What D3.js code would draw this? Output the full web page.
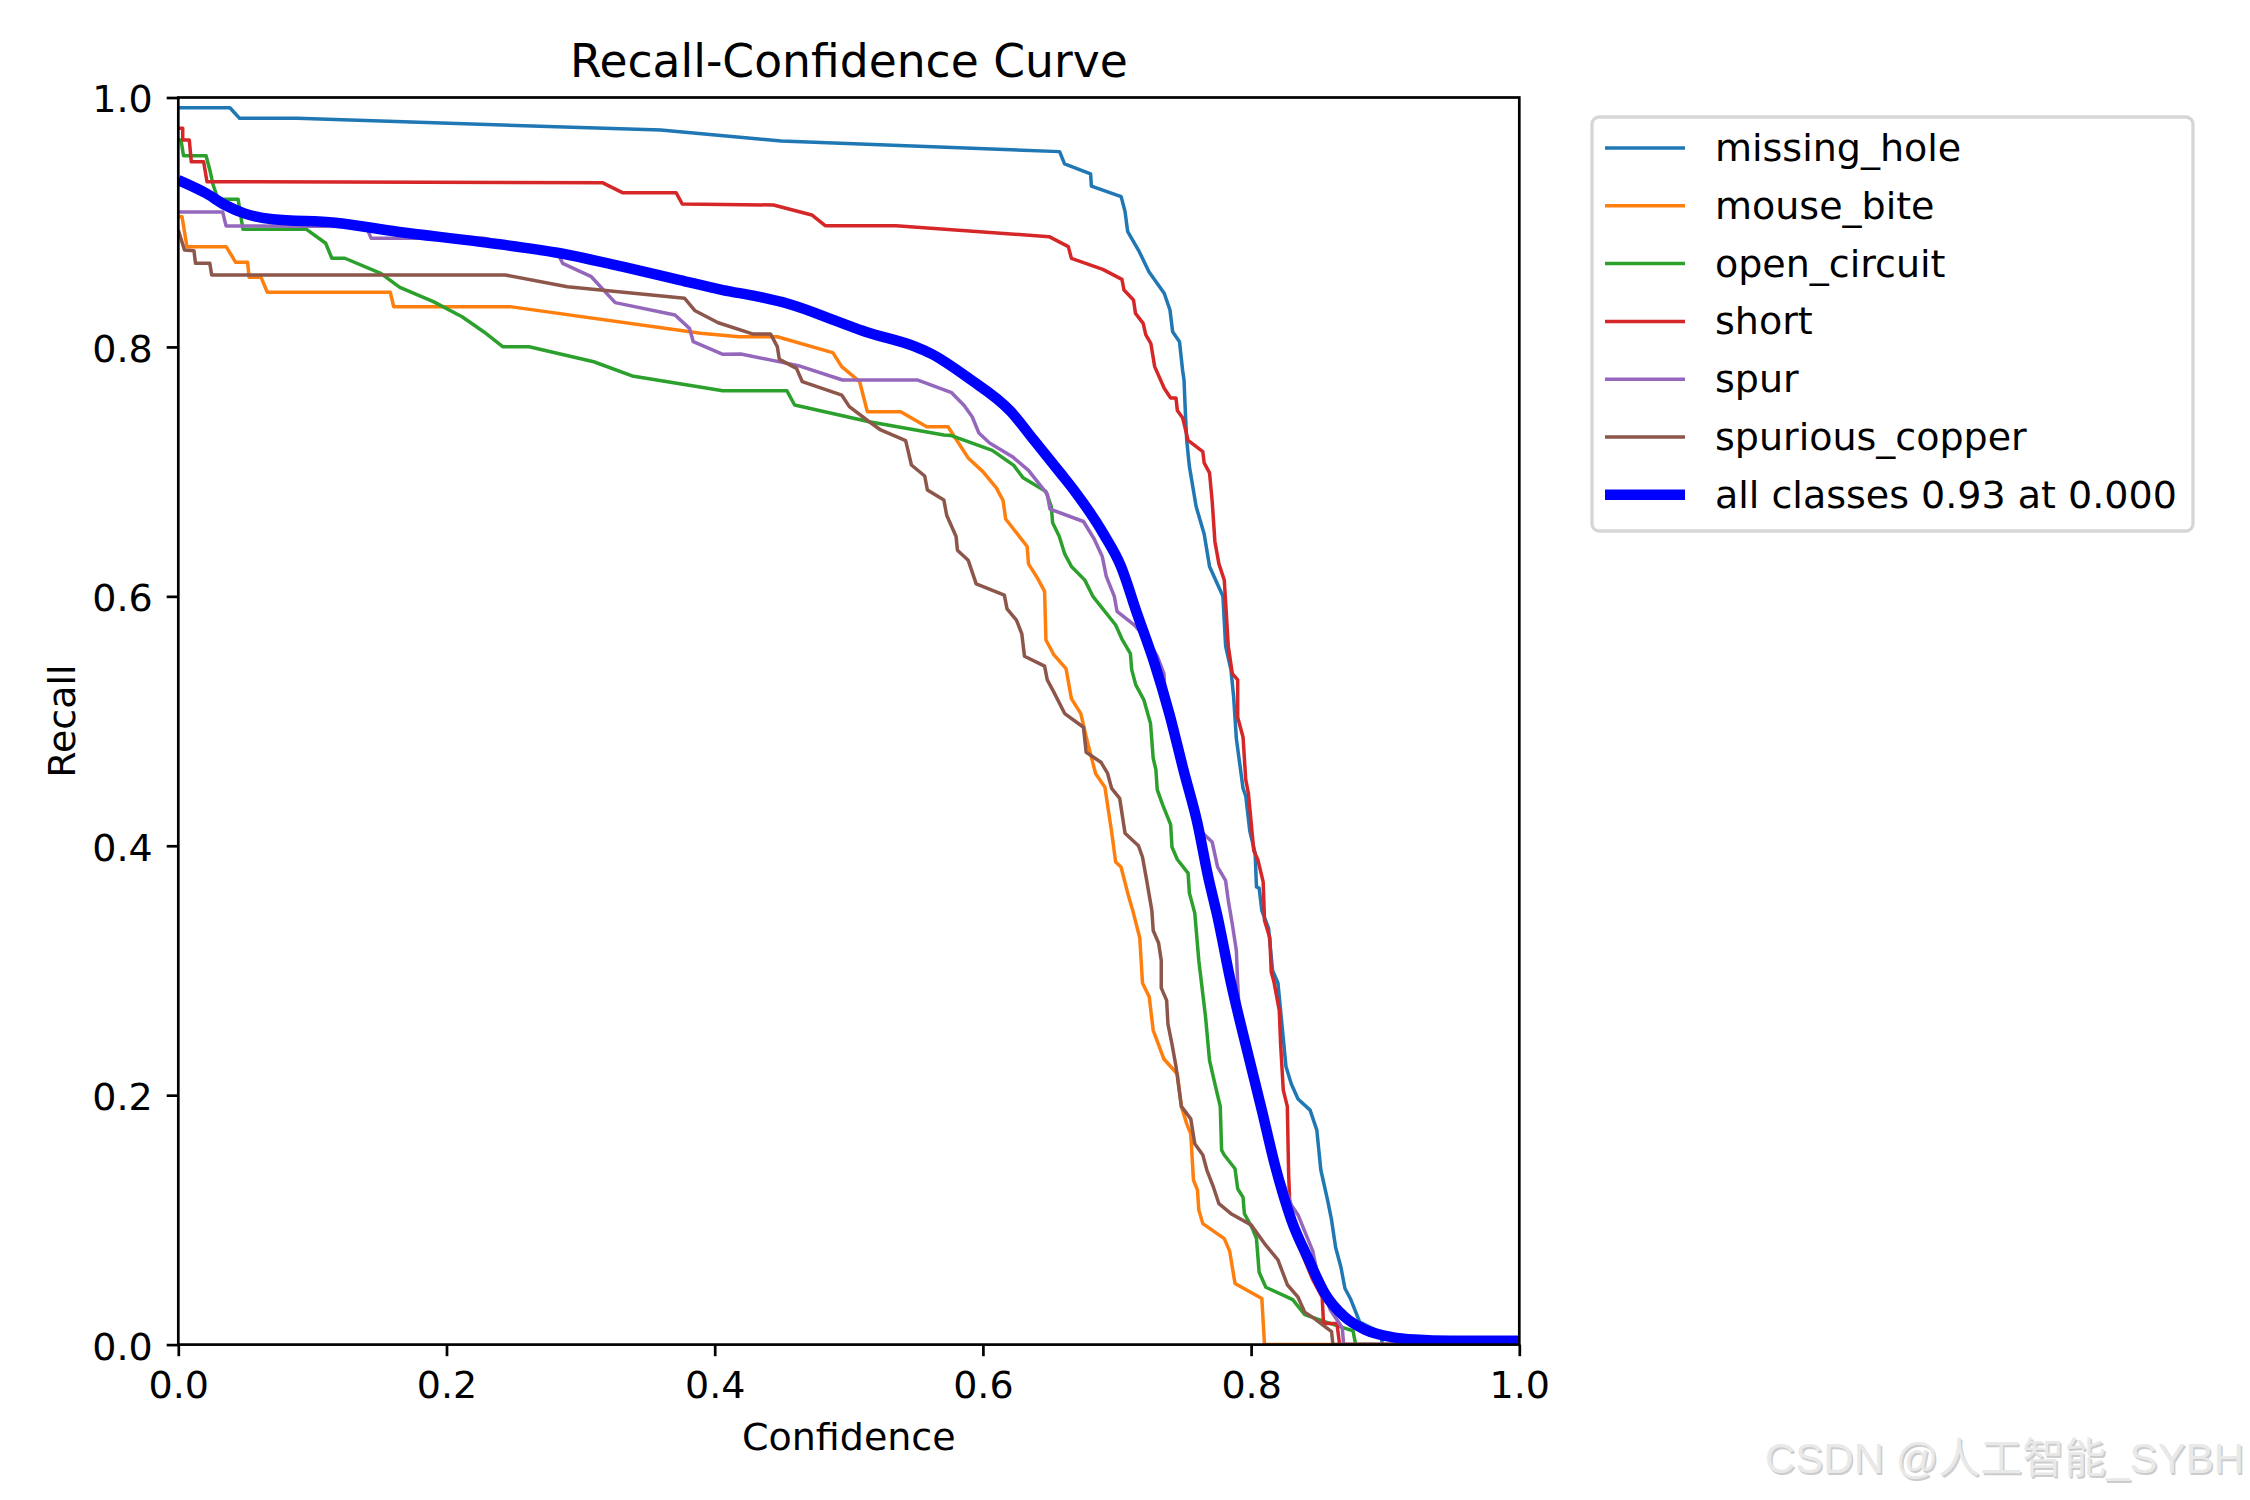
<!DOCTYPE html>
<html>
<head>
<meta charset="utf-8">
<script src="https://cdn.jsdelivr.net/npm/d3@7"></script>
<style>
  html, body { margin: 0; padding: 0; background: #ffffff; }
  svg { display: block; }
</style>
</head>
<body>
<div id="chart"></div>
<script>
// ---------------- data (confidence, recall) ----------------
const classNames = ["missing_hole", "mouse_bite", "open_circuit", "short", "spur", "spurious_copper"];
const allClassesLabel = "all classes 0.93 at 0.000";
const xTicks = [0.0, 0.2, 0.4, 0.6, 0.8, 1.0];
const yTicks = [0.0, 0.2, 0.4, 0.6, 0.8, 1.0];

const missingHole = [[0,0.9918],[0.0385,0.9918],[0.0457,0.9833],[0.0885,0.9833],[0.3597,0.9739],[0.4269,0.9673],[0.4496,0.9651],[0.6572,0.9566],[0.6609,0.9467],[0.6803,0.9387],[0.6809,0.929],[0.7031,0.9205],[0.706,0.9085],[0.708,0.8924],[0.7166,0.8764],[0.7238,0.8603],[0.7352,0.843],[0.7395,0.8296],[0.7415,0.8122],[0.7466,0.8042],[0.7489,0.7815],[0.750,0.773],[0.751,0.747],[0.752,0.725],[0.754,0.704],[0.759,0.672],[0.765,0.650],[0.769,0.624],[0.779,0.600],[0.781,0.560],[0.785,0.541],[0.787,0.519],[0.789,0.486],[0.794,0.446],[0.796,0.440],[0.799,0.412],[0.803,0.394],[0.804,0.367],[0.806,0.366],[0.808,0.348],[0.813,0.334],[0.816,0.300],[0.820,0.290],[0.822,0.268],[0.826,0.223],[0.830,0.209],[0.835,0.197],[0.844,0.188],[0.849,0.172],[0.852,0.140],[0.857,0.116],[0.860,0.100],[0.863,0.078],[0.867,0.062],[0.870,0.045],[0.874,0.037],[0.881,0.018],[0.896,0.010],[0.897,0.006],[0.898,0],[1,0]];

const mouseBite = [[0,0.9044],[0.0028,0.9044],[0.0064,0.8804],[0.0357,0.8804],[0.0428,0.8678],[0.0517,0.8678],[0.0528,0.8558],[0.0617,0.8558],[0.0664,0.8438],[0.1581,0.8438],[0.1606,0.8323],[0.2473,0.8323],[0.3896,0.811],[0.4181,0.8082],[0.4467,0.8082],[0.4853,0.7962],[0.4881,0.7954],[0.4947,0.7842],[0.5081,0.7721],[0.5138,0.7481],[0.5387,0.7481],[0.5581,0.736],[0.574,0.736],[0.589,0.711],[0.600,0.700],[0.610,0.687],[0.615,0.677],[0.617,0.662],[0.633,0.640],[0.634,0.626],[0.641,0.614],[0.646,0.604],[0.647,0.565],[0.653,0.553],[0.662,0.542],[0.666,0.518],[0.673,0.506],[0.678,0.483],[0.684,0.458],[0.691,0.447],[0.696,0.411],[0.699,0.387],[0.703,0.383],[0.708,0.362],[0.712,0.347],[0.717,0.326],[0.719,0.290],[0.724,0.279],[0.727,0.252],[0.735,0.229],[0.745,0.217],[0.748,0.191],[0.752,0.177],[0.755,0.169],[0.757,0.132],[0.760,0.124],[0.761,0.108],[0.764,0.097],[0.780,0.085],[0.784,0.075],[0.788,0.049],[0.808,0.037],[0.810,0],[1,0]];

const openCircuit = [[0,0.9659],[0.002,0.9659],[0.0039,0.9533],[0.0207,0.9533],[0.0235,0.9419],[0.026,0.9298],[0.0296,0.9184],[0.0446,0.9184],[0.0482,0.8943],[0.0956,0.8943],[0.1099,0.8831],[0.1145,0.8711],[0.1242,0.8711],[0.151,0.859],[0.1652,0.8478],[0.1902,0.8363],[0.2116,0.8242],[0.2277,0.8122],[0.2419,0.8002],[0.2616,0.8002],[0.3098,0.7881],[0.3384,0.7767],[0.4061,0.7649],[0.4538,0.7649],[0.4596,0.7534],[0.5152,0.74],[0.5709,0.7294],[0.576,0.729],[0.607,0.717],[0.623,0.705],[0.630,0.695],[0.647,0.684],[0.651,0.672],[0.652,0.659],[0.657,0.648],[0.661,0.634],[0.666,0.624],[0.676,0.613],[0.682,0.600],[0.699,0.577],[0.704,0.565],[0.710,0.554],[0.711,0.541],[0.714,0.529],[0.720,0.517],[0.725,0.498],[0.727,0.470],[0.729,0.461],[0.730,0.445],[0.734,0.433],[0.740,0.417],[0.741,0.399],[0.745,0.389],[0.753,0.378],[0.754,0.362],[0.758,0.346],[0.761,0.308],[0.766,0.263],[0.769,0.228],[0.773,0.209],[0.777,0.191],[0.778,0.156],[0.780,0.152],[0.788,0.141],[0.790,0.125],[0.794,0.118],[0.795,0.105],[0.801,0.093],[0.804,0.085],[0.806,0.058],[0.811,0.046],[0.831,0.036],[0.840,0.024],[0.856,0.018],[0.876,0.011],[0.878,0],[1,0]];

const shortCls = [[0,0.9753],[0.0033,0.9753],[0.0033,0.9659],[0.0082,0.9659],[0.0097,0.9485],[0.0189,0.9485],[0.0214,0.9325],[0.3162,0.9317],[0.3312,0.9237],[0.3712,0.9237],[0.3758,0.9146],[0.4438,0.9138],[0.4724,0.9058],[0.4824,0.8972],[0.5352,0.8972],[0.6494,0.8884],[0.6637,0.8804],[0.666,0.871],[0.6894,0.8622],[0.7037,0.8542],[0.7052,0.8456],[0.7123,0.8376],[0.7138,0.8269],[0.7195,0.8189],[0.7215,0.8096],[0.7252,0.8029],[0.7281,0.7842],[0.7352,0.7668],[0.740,0.759],[0.744,0.759],[0.745,0.749],[0.749,0.743],[0.753,0.725],[0.764,0.716],[0.765,0.707],[0.769,0.699],[0.771,0.676],[0.773,0.644],[0.776,0.626],[0.780,0.613],[0.783,0.560],[0.786,0.538],[0.790,0.533],[0.790,0.503],[0.794,0.487],[0.796,0.453],[0.798,0.442],[0.802,0.396],[0.805,0.389],[0.809,0.371],[0.810,0.340],[0.814,0.326],[0.815,0.299],[0.817,0.291],[0.821,0.268],[0.822,0.241],[0.824,0.204],[0.827,0.191],[0.828,0.137],[0.829,0.108],[0.836,0.078],[0.846,0.052],[0.853,0.038],[0.854,0.017],[0.864,0.017],[0.866,0],[1,0]];

const spur = [[0,0.9082],[0.0331,0.9082],[0.0356,0.897],[0.1402,0.8965],[0.1438,0.8871],[0.2278,0.8871],[0.2831,0.875],[0.2866,0.867],[0.308,0.8563],[0.3258,0.8355],[0.3704,0.8256],[0.3812,0.8149],[0.384,0.8042],[0.4061,0.7941],[0.4195,0.7943],[0.4624,0.785],[0.4953,0.7735],[0.551,0.7735],[0.5767,0.7633],[0.586,0.753],[0.592,0.744],[0.597,0.731],[0.605,0.723],[0.622,0.712],[0.634,0.701],[0.648,0.682],[0.650,0.670],[0.675,0.660],[0.683,0.646],[0.689,0.632],[0.692,0.616],[0.698,0.600],[0.700,0.588],[0.713,0.577],[0.722,0.566],[0.730,0.552],[0.735,0.538],[0.736,0.519],[0.740,0.500],[0.750,0.459],[0.760,0.418],[0.761,0.413],[0.771,0.403],[0.775,0.383],[0.781,0.372],[0.783,0.356],[0.786,0.337],[0.789,0.316],[0.790,0.290],[0.791,0.268],[0.794,0.258],[0.800,0.230],[0.810,0.185],[0.820,0.142],[0.830,0.112],[0.835,0.104],[0.846,0.075],[0.850,0.054],[0.859,0.028],[0.868,0.0135],[0.869,0],[1,0]];

const spuriousCopper = [[0,0.8937],[0.0046,0.8777],[0.0117,0.8772],[0.0128,0.867],[0.0235,0.867],[0.0249,0.8577],[0.2437,0.8577],[0.2901,0.8483],[0.3776,0.839],[0.3854,0.829],[0.4026,0.8194],[0.4282,0.8104],[0.4416,0.8104],[0.4467,0.8002],[0.4482,0.79],[0.461,0.7828],[0.4653,0.7721],[0.491,0.7628],[0.4947,0.7614],[0.5004,0.7521],[0.5152,0.74],[0.5238,0.7334],[0.5424,0.7248],[0.5467,0.7053],[0.5566,0.6965],[0.5586,0.6853],[0.5709,0.6772],[0.573,0.665],[0.580,0.648],[0.581,0.637],[0.589,0.629],[0.595,0.610],[0.616,0.601],[0.618,0.590],[0.625,0.581],[0.629,0.570],[0.631,0.552],[0.646,0.544],[0.648,0.533],[0.653,0.523],[0.661,0.506],[0.675,0.495],[0.677,0.475],[0.688,0.467],[0.693,0.458],[0.696,0.446],[0.702,0.438],[0.706,0.410],[0.716,0.400],[0.719,0.391],[0.722,0.373],[0.726,0.348],[0.727,0.332],[0.731,0.322],[0.733,0.308],[0.733,0.286],[0.737,0.276],[0.738,0.257],[0.741,0.241],[0.744,0.223],[0.748,0.191],[0.755,0.181],[0.758,0.161],[0.764,0.152],[0.767,0.140],[0.772,0.126],[0.776,0.113],[0.785,0.105],[0.800,0.096],[0.810,0.081],[0.820,0.068],[0.827,0.048],[0.835,0.038],[0.840,0.026],[0.847,0.021],[0.860,0.0104],[0.861,0],[1,0]];

const allClasses = [[0,0.9338],[0.0207,0.9232],[0.0349,0.9138],[0.0492,0.9071],[0.0706,0.9023],[0.117,0.8996],[0.1634,0.8924],[0.2241,0.8844],[0.2848,0.8751],[0.3312,0.8643],[0.374,0.8536],[0.4061,0.8456],[0.4324,0.8403],[0.4553,0.8344],[0.4953,0.8189],[0.5124,0.8122],[0.5495,0.8002],[0.5609,0.7948],[0.5895,0.7748],[0.6209,0.7481],[0.638,0.7253],[0.658,0.6986],[0.668,0.685],[0.690,0.650],[0.703,0.624],[0.715,0.586],[0.728,0.546],[0.739,0.506],[0.750,0.459],[0.760,0.418],[0.768,0.375],[0.775,0.343],[0.785,0.290],[0.797,0.236],[0.808,0.188],[0.818,0.143],[0.830,0.100],[0.843,0.068],[0.855,0.041],[0.870,0.022],[0.885,0.012],[0.905,0.006],[0.922,0.004],[0.949,0.003],[1,0.003]];

const classSeries = [missingHole, mouseBite, openCircuit, shortCls, spur, spuriousCopper];

// ---------------- styles ----------------
const classColors = ["#1f77b4", "#ff7f0e", "#2ca02c", "#d62728", "#9467bd", "#8c564b"];
const allColor = "#0000ff";
const FONT = "DejaVu Sans, Liberation Sans, sans-serif";
const FS = 38;

const W = 2250, H = 1500;
const plot = { left: 178.3, right: 1519.3, top: 97.5, bottom: 1344.6 };

const svg = d3.select("#chart").append("svg")
  .attr("width", W).attr("height", H)
  .attr("viewBox", `0 0 ${W} ${H}`)
  .style("background", "#ffffff");

const x = d3.scaleLinear().domain([0, 1]).range([plot.left, plot.right]);
const y = d3.scaleLinear().domain([0, 1]).range([plot.bottom, plot.top]);

svg.append("defs").append("clipPath").attr("id", "plotClip")
  .append("rect")
  .attr("x", plot.left).attr("y", plot.top)
  .attr("width", plot.right - plot.left).attr("height", plot.bottom - plot.top);

const lines = svg.append("g").attr("clip-path", "url(#plotClip)");
const lineGen = d3.line().x(d => x(d[0])).y(d => y(d[1]));
const smoothGen = d3.line().x(d => x(d[0])).y(d => y(d[1])).curve(d3.curveMonotoneX);

classSeries.forEach((s, i) => {
  lines.append("path")
    .datum(s)
    .attr("d", lineGen)
    .attr("fill", "none")
    .attr("stroke", classColors[i])
    .attr("stroke-width", 3.5)
    .attr("stroke-linejoin", "round")
    .attr("stroke-linecap", "butt");
});
lines.append("path")
  .datum(allClasses)
  .attr("d", smoothGen)
  .attr("fill", "none")
  .attr("stroke", allColor)
  .attr("stroke-width", 10.5)
  .attr("stroke-linejoin", "round");

// ---------------- axes ----------------
const xAxis = d3.axisBottom(x).tickValues(xTicks).tickFormat(d3.format(".1f"))
  .tickSize(11.6).tickPadding(15).tickSizeOuter(0);
const yAxis = d3.axisLeft(y).tickValues(yTicks).tickFormat(d3.format(".1f"))
  .tickSize(11.6).tickPadding(14).tickSizeOuter(0);

const gx = svg.append("g").attr("transform", `translate(0,${plot.bottom})`).call(xAxis);
const gy = svg.append("g").attr("transform", `translate(${plot.left},0)`).call(yAxis);
[gx, gy].forEach(g => {
  g.select(".domain").remove();
  g.selectAll(".tick line").attr("stroke", "#000").attr("stroke-width", 2.7);
  g.selectAll(".tick text").attr("fill", "#000")
    .style("font-family", FONT).style("font-size", FS + "px");
});
gy.selectAll(".tick text").attr("dy", "0.38em");

// spines
svg.append("rect")
  .attr("x", plot.left).attr("y", plot.top)
  .attr("width", plot.right - plot.left).attr("height", plot.bottom - plot.top)
  .attr("fill", "none").attr("stroke", "#000").attr("stroke-width", 2.7)
  .attr("stroke-linejoin", "miter");

// title & labels
const cx = (plot.left + plot.right) / 2;
svg.append("text").attr("x", cx).attr("y", 76.7)
  .attr("text-anchor", "middle")
  .style("font-family", FONT).style("font-size", (FS * 1.2) + "px")
  .text("Recall-Confidence Curve");
svg.append("text").attr("x", cx).attr("y", 1450)
  .attr("text-anchor", "middle")
  .style("font-family", FONT).style("font-size", FS + "px")
  .text("Confidence");
svg.append("text")
  .attr("transform", `translate(75,${(plot.top + plot.bottom) / 2}) rotate(-90)`)
  .attr("text-anchor", "middle")
  .style("font-family", FONT).style("font-size", FS + "px")
  .text("Recall");

// ---------------- legend ----------------
const legend = { x: 1592, y: 117, w: 601, h: 414, row0: 148, step: 57.8,
                 hx0: 1605, hx1: 1685, tx: 1715 };
const lg = svg.append("g");
lg.append("rect")
  .attr("x", legend.x).attr("y", legend.y)
  .attr("width", legend.w).attr("height", legend.h)
  .attr("rx", 7).attr("ry", 7)
  .attr("fill", "#ffffff").attr("fill-opacity", 0.8)
  .attr("stroke", "#d6d6d6").attr("stroke-width", 3.3);

const legendItems = classNames.map((n, i) => ({ label: n, color: classColors[i], w: 3.5 }))
  .concat([{ label: allClassesLabel, color: allColor, w: 10.5 }]);
legendItems.forEach((it, i) => {
  const cy = legend.row0 + i * legend.step;
  lg.append("line")
    .attr("x1", legend.hx0).attr("x2", legend.hx1)
    .attr("y1", cy).attr("y2", cy)
    .attr("stroke", it.color).attr("stroke-width", it.w);
  lg.append("text")
    .attr("x", legend.tx).attr("y", cy + 13)
    .style("font-family", FONT).style("font-size", FS + "px")
    .text(it.label);
});

// ---------------- watermark ----------------
const wm = "CSDN @人工智能_SYBH";
const wmFont = "Liberation Sans, Arial, Noto Sans CJK SC, sans-serif";
svg.append("text").attr("x", 2245.5).attr("y", 1474.5)
  .attr("text-anchor", "end")
  .style("font-family", wmFont).style("font-size", "42px")
  .attr("fill", "#cccccc").text(wm);
svg.append("text").attr("x", 2244).attr("y", 1473)
  .attr("text-anchor", "end")
  .style("font-family", wmFont).style("font-size", "42px")
  .attr("fill", "#e9e9e9").text(wm);
</script>
</body>
</html>
